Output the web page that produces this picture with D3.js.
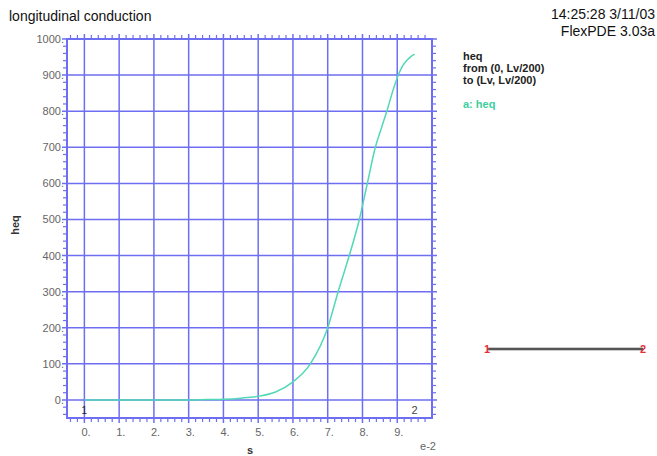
<!DOCTYPE html>
<html>
<head>
<meta charset="UTF-8">
<title>longitudinal conduction</title>
<script src="https://cdn.jsdelivr.net/npm/d3@7"></script>
<style>
body { margin: 0; background: #fff; }
text { font-family: Arial, "Liberation Sans", sans-serif; }
</style>
</head>
<body>
<div id="chart"></div>
<script type="text/javascript">
// curve values (s in units of 1e-2)
var sVals   = [0, 0.5, 1, 1.5, 2, 2.5, 3, 3.5, 4, 4.5, 5, 5.5, 6, 6.5, 7, 7.3, 7.62, 7.91, 8.14, 8.37, 8.55, 8.7, 8.87, 9.03, 9.15, 9.28, 9.4, 9.5];
var heqVals = [0, 0, 0, 0, 0, 0, 0, 1, 2, 5, 10, 22, 50, 100, 200, 300, 400, 500, 600, 700, 755, 800, 855, 900, 925, 941, 952, 958];
var xTicks = [0, 1, 2, 3, 4, 5, 6, 7, 8, 9];
var yTicks = [0, 100, 200, 300, 400, 500, 600, 700, 800, 900, 1000];
var legendLines = ["heq", "from (0, Lv/200)", "to (Lv, Lv/200)"];

var W = 657, H = 456;
var svg = d3.select("#chart").append("svg").attr("width", W).attr("height", H);

var x = d3.scaleLinear().domain([-0.5, 10]).range([67, 432]);
var y = d3.scaleLinear().domain([-50, 1000]).range([418, 39]);

var gridCol = "#6e6ef2";

// minor ticks (outward)
var xMinor = d3.range(-0.4, 10.0001, 0.2).filter(function(v) { return Math.abs(v - Math.round(v)) > 0.01; });
var yMinor = d3.range(-40, 1000, 20).filter(function(v) { return v % 100 !== 0; });

svg.selectAll(".xmb").data(xMinor).enter().append("line")
	.attr("x1", function(d) { return x(d); }).attr("x2", function(d) { return x(d); })
	.attr("y1", 418).attr("y2", 422).attr("stroke", gridCol).attr("stroke-width", 1.2);
svg.selectAll(".xmt").data(xMinor).enter().append("line")
	.attr("x1", function(d) { return x(d); }).attr("x2", function(d) { return x(d); })
	.attr("y1", 39).attr("y2", 35).attr("stroke", gridCol).attr("stroke-width", 1.2);
svg.selectAll(".yml").data(yMinor).enter().append("line")
	.attr("y1", function(d) { return y(d); }).attr("y2", function(d) { return y(d); })
	.attr("x1", 67).attr("x2", 63).attr("stroke", gridCol).attr("stroke-width", 1.2);
svg.selectAll(".ymr").data(yMinor).enter().append("line")
	.attr("y1", function(d) { return y(d); }).attr("y2", function(d) { return y(d); })
	.attr("x1", 432).attr("x2", 436).attr("stroke", gridCol).attr("stroke-width", 1.2);

// major grid lines, slightly past the frame
svg.selectAll(".xg").data(xTicks).enter().append("line")
	.attr("x1", function(d) { return x(d); }).attr("x2", function(d) { return x(d); })
	.attr("y1", 34).attr("y2", 423).attr("stroke", gridCol).attr("stroke-width", 1.5);
svg.selectAll(".yg").data(yTicks).enter().append("line")
	.attr("y1", function(d) { return y(d); }).attr("y2", function(d) { return y(d); })
	.attr("x1", 62).attr("x2", 437).attr("stroke", gridCol).attr("stroke-width", 1.5);

// frame
svg.append("rect").attr("x", 67).attr("y", 39).attr("width", 365).attr("height", 379)
	.attr("fill", "none").attr("stroke", gridCol).attr("stroke-width", 2);

// tick labels
svg.selectAll(".xl").data(xTicks).enter().append("text")
	.attr("x", function(d) { return x(d) - 3; }).attr("y", 436)
	.attr("font-size", 11).attr("fill", "#666")
	.text(function(d) { return d + "."; });
svg.selectAll(".yl").data(yTicks).enter().append("text")
	.attr("x", 64).attr("y", function(d) { return y(d) + 4; })
	.attr("text-anchor", "end").attr("font-size", 11).attr("fill", "#666")
	.text(function(d) { return d + "."; });

// curve
var pts = sVals.map(function(s, i) { return [s, heqVals[i]]; });
svg.append("path").datum(pts)
	.attr("fill", "none").attr("stroke", "#52d8b6").attr("stroke-width", 1.5)
	.attr("d", d3.line().curve(d3.curveMonotoneX).x(function(d) { return x(d[0]); }).y(function(d) { return y(d[1]); }));

// end markers
svg.append("text").attr("x", x(0)).attr("y", 414).attr("font-size", 10).attr("text-anchor", "middle").attr("fill", "#222").text("1");
svg.append("text").attr("x", x(9.5)).attr("y", 414).attr("font-size", 11).attr("text-anchor", "middle").attr("fill", "#444").text("2");

// axis titles
svg.append("text").attr("x", 250).attr("y", 454).attr("font-size", 11).attr("font-weight", "bold").attr("fill", "#333").attr("text-anchor", "middle").text("s");
svg.append("text").attr("x", 428).attr("y", 450).attr("font-size", 11).attr("fill", "#666").attr("text-anchor", "middle").text("e-2");
svg.append("text").attr("transform", "translate(19,225) rotate(-90)").attr("font-size", 11).attr("font-weight", "bold").attr("fill", "#333").attr("text-anchor", "middle").text("heq");

// titles
svg.append("text").attr("x", 9).attr("y", 21).attr("font-size", 14).attr("fill", "#111").text("longitudinal conduction");
svg.append("text").attr("x", 655).attr("y", 19).attr("font-size", 14).attr("fill", "#111").attr("text-anchor", "end").text("14:25:28 3/11/03");
svg.append("text").attr("x", 655).attr("y", 36).attr("font-size", 14).attr("fill", "#111").attr("text-anchor", "end").text("FlexPDE 3.03a");

// legend
svg.selectAll(".lg").data(legendLines).enter().append("text")
	.attr("x", 463).attr("y", function(d, i) { return 60 + i * 12; })
	.attr("font-size", 11).attr("font-weight", "bold").attr("fill", "#222")
	.text(function(d) { return d; });
svg.append("text").attr("x", 463).attr("y", 108).attr("font-size", 11).attr("font-weight", "bold").attr("fill", "#3ccf9c").text("a: heq");

// path sketch on the right
svg.append("line").attr("x1", 487).attr("x2", 643).attr("y1", 349).attr("y2", 349).attr("stroke", "#ccc").attr("stroke-width", 4);
svg.append("line").attr("x1", 487).attr("x2", 643).attr("y1", 349).attr("y2", 349).attr("stroke", "#555").attr("stroke-width", 2);
svg.append("text").attr("x", 487).attr("y", 353).attr("font-size", 11).attr("font-weight", "bold").attr("text-anchor", "middle").attr("fill", "#e03040").text("1");
svg.append("text").attr("x", 643).attr("y", 353).attr("font-size", 11).attr("font-weight", "bold").attr("text-anchor", "middle").attr("fill", "#e03040").text("2");
</script>
</body>
</html>
